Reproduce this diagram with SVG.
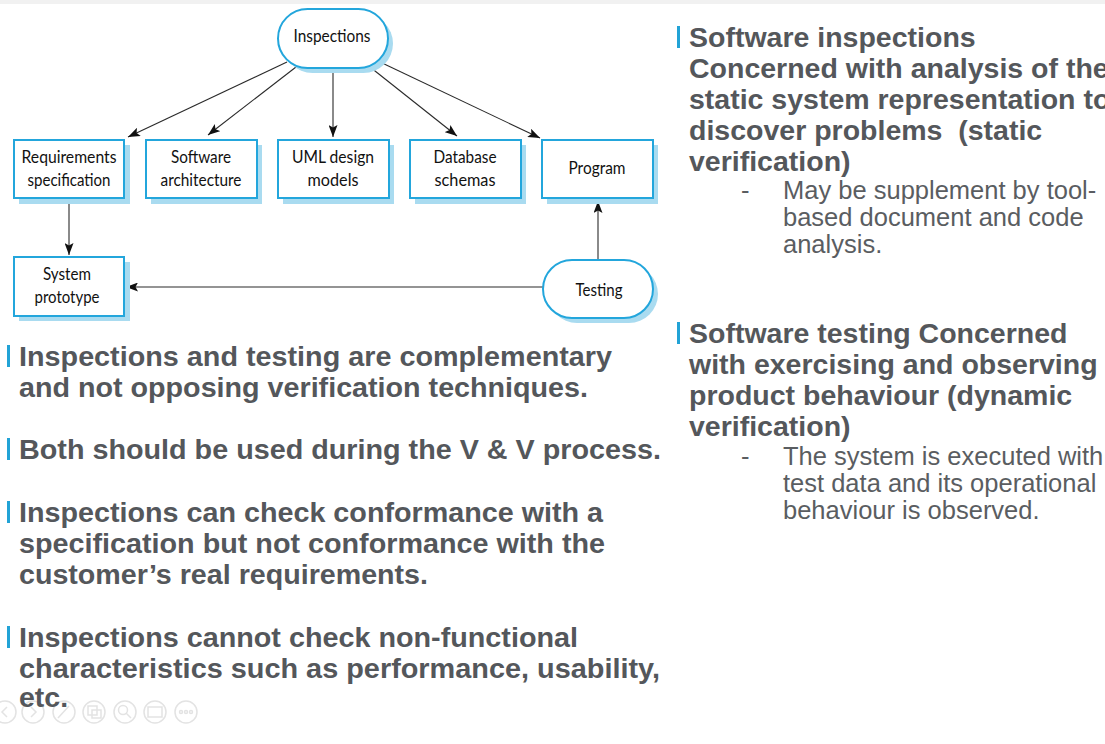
<svg xmlns="http://www.w3.org/2000/svg" width="1105" height="744" viewBox="0 0 1105 744">
<style>
.box{fill:#ffffff;stroke:#23a6dc;stroke-width:2}
.shadow{fill:#a9dbf0;stroke:none}
.lbl{font-family:Lato,"Open Sans","Liberation Sans",sans-serif;font-size:17.5px;fill:#111;text-anchor:middle}
.conn{stroke:#2a2a2a;stroke-width:1.1;fill:none;marker-end:url(#arr)}
.b{font-family:"Liberation Sans",Arial,sans-serif;font-weight:bold;font-size:28.5px;fill:#54575b}
.r{font-family:"Liberation Sans",Arial,sans-serif;font-size:25.5px;fill:#5a5d61}
.bar{fill:#22a3d6}
.ic{fill:none;stroke:#e3e3e3;stroke-width:1.5}
</style>
<defs>
<marker id="arr" markerUnits="userSpaceOnUse" markerWidth="12" markerHeight="9" refX="12" refY="4.5" orient="auto">
<path d="M0,0 L12,4.5 L0,9 L2.5,4.5 z" fill="#111"/>
</marker>
</defs>
<rect x="0" y="0" width="1105" height="744" fill="#ffffff"/>
<rect x="0" y="0" width="1105" height="4" fill="#f1f1f1"/>

<g id="toolbar">
<circle class="ic" cx="5" cy="712" r="11"/>
<path class="ic" d="M7,707 L2,712 L7,717"/>
<circle class="ic" cx="33" cy="712" r="11"/>
<path class="ic" d="M31,707 L36,712 L31,717"/>
<circle class="ic" cx="64" cy="712" r="11"/>
<path class="ic" d="M58,718 L69,706"/>
<circle class="ic" cx="94" cy="712" r="11"/>
<rect class="ic" x="88" y="706" width="9" height="9"/><rect class="ic" x="92" y="710" width="9" height="8"/>
<circle class="ic" cx="125" cy="712" r="11"/>
<circle class="ic" cx="123" cy="710" r="4.5"/><path class="ic" d="M126,713 L131,718"/>
<circle class="ic" cx="155" cy="712" r="11"/>
<rect class="ic" x="148" y="707" width="14" height="10"/>
<circle class="ic" cx="186" cy="712" r="11"/>
<circle class="ic" cx="181" cy="712" r="1.5"/><circle class="ic" cx="186" cy="712" r="1.5"/><circle class="ic" cx="191" cy="712" r="1.5"/>
</g>

<g id="connectors">
<line class="conn" x1="287" y1="62" x2="128" y2="137"/>
<line class="conn" x1="296" y1="67" x2="208" y2="135"/>
<line class="conn" x1="333" y1="68" x2="333" y2="137"/>
<line class="conn" x1="370" y1="67" x2="457" y2="136"/>
<line class="conn" x1="380" y1="62" x2="540" y2="138"/>
<line class="conn" x1="69" y1="199" x2="69" y2="255"/>
<line class="conn" x1="598" y1="260" x2="598" y2="201"/>
<line class="conn" x1="543" y1="287" x2="126" y2="287"/>
</g>

<g id="inspections">
<rect class="shadow" x="283" y="14" width="110" height="59" rx="29.5"/>
<rect class="box" x="278" y="9" width="110" height="59" rx="29.5"/>
<text class="lbl" x="332" y="42" textLength="77" lengthAdjust="spacingAndGlyphs">Inspections</text>
</g>

<g id="requirements">
<rect class="shadow" x="19" y="145" width="111" height="59"/>
<rect class="box" x="14" y="140" width="110" height="58"/>
<text class="lbl" x="69" y="163" textLength="95" lengthAdjust="spacingAndGlyphs">Requirements</text>
<text class="lbl" x="69" y="186" textLength="83" lengthAdjust="spacingAndGlyphs">specification</text>
</g>

<g id="architecture">
<rect class="shadow" x="151" y="145" width="111" height="59"/>
<rect class="box" x="146" y="140" width="111" height="58"/>
<text class="lbl" x="201" y="163" textLength="60" lengthAdjust="spacingAndGlyphs">Software</text>
<text class="lbl" x="201" y="186" textLength="81" lengthAdjust="spacingAndGlyphs">architecture</text>
</g>

<g id="uml">
<rect class="shadow" x="283" y="145" width="111" height="59"/>
<rect class="box" x="278" y="140" width="111" height="58"/>
<text class="lbl" x="333" y="163" textLength="82" lengthAdjust="spacingAndGlyphs">UML design</text>
<text class="lbl" x="333" y="186" textLength="51" lengthAdjust="spacingAndGlyphs">models</text>
</g>

<g id="database">
<rect class="shadow" x="415" y="145" width="111" height="59"/>
<rect class="box" x="410" y="140" width="111" height="58"/>
<text class="lbl" x="465" y="163" textLength="63" lengthAdjust="spacingAndGlyphs">Database</text>
<text class="lbl" x="465" y="186" textLength="61" lengthAdjust="spacingAndGlyphs">schemas</text>
</g>

<g id="program">
<rect class="shadow" x="547" y="145" width="111" height="59"/>
<rect class="box" x="542" y="140" width="111" height="58"/>
<text class="lbl" x="597" y="174" textLength="57" lengthAdjust="spacingAndGlyphs">Program</text>
</g>

<g id="prototype">
<rect class="shadow" x="19" y="262" width="111" height="59"/>
<rect class="box" x="14" y="257" width="110" height="59"/>
<text class="lbl" x="67" y="280" textLength="48" lengthAdjust="spacingAndGlyphs">System</text>
<text class="lbl" x="67" y="303" textLength="65" lengthAdjust="spacingAndGlyphs">prototype</text>
</g>

<g id="testing">
<rect class="shadow" x="548" y="265" width="110" height="58" rx="29"/>
<rect class="box" x="543" y="260" width="110" height="58" rx="29"/>
<text class="lbl" x="599" y="296" textLength="47" lengthAdjust="spacingAndGlyphs">Testing</text>
</g>

<g id="left-text">
<rect class="bar" x="7" y="345" width="3" height="22"/>
<text class="b" x="19" y="366" textLength="593" lengthAdjust="spacingAndGlyphs">Inspections and testing are complementary</text>
<text class="b" x="19" y="397" textLength="569" lengthAdjust="spacingAndGlyphs">and not opposing verification techniques.</text>
<rect class="bar" x="7" y="438" width="3" height="22"/>
<text class="b" x="19" y="459" textLength="642" lengthAdjust="spacingAndGlyphs">Both should be used during the V &amp; V process.</text>
<rect class="bar" x="7" y="501" width="3" height="22"/>
<text class="b" x="19" y="522" textLength="584" lengthAdjust="spacingAndGlyphs">Inspections can check conformance with a</text>
<text class="b" x="19" y="553" textLength="586" lengthAdjust="spacingAndGlyphs">specification but not conformance with the</text>
<text class="b" x="19" y="584" textLength="409" lengthAdjust="spacingAndGlyphs">customer’s real requirements.</text>
<rect class="bar" x="7" y="626" width="3" height="22"/>
<text class="b" x="19" y="647" textLength="559" lengthAdjust="spacingAndGlyphs">Inspections cannot check non-functional</text>
<text class="b" x="19" y="678" textLength="641" lengthAdjust="spacingAndGlyphs">characteristics such as performance, usability,</text>
<text class="b" x="19" y="707">etc.</text>
</g>

<g id="right-text">
<rect class="bar" x="677" y="26" width="3" height="22"/>
<text class="b" x="689" y="47">Software inspections</text>
<text class="b" x="689" y="78">Concerned with analysis of the</text>
<text class="b" x="689" y="109">static system representation to</text>
<text class="b" x="689" y="140" xml:space="preserve">discover problems  (static</text>
<text class="b" x="689" y="171">verification)</text>
<text class="r" x="741" y="199">-</text>
<text class="r" x="783" y="199">May be supplement by tool-</text>
<text class="r" x="783" y="226">based document and code</text>
<text class="r" x="783" y="253">analysis.</text>
<rect class="bar" x="677" y="322" width="3" height="22"/>
<text class="b" x="689" y="343">Software testing Concerned</text>
<text class="b" x="689" y="374">with exercising and observing</text>
<text class="b" x="689" y="405">product behaviour (dynamic</text>
<text class="b" x="689" y="436">verification)</text>
<text class="r" x="741" y="465">-</text>
<text class="r" x="783" y="465">The system is executed with</text>
<text class="r" x="783" y="492">test data and its operational</text>
<text class="r" x="783" y="519">behaviour is observed.</text>
</g>
</svg>
